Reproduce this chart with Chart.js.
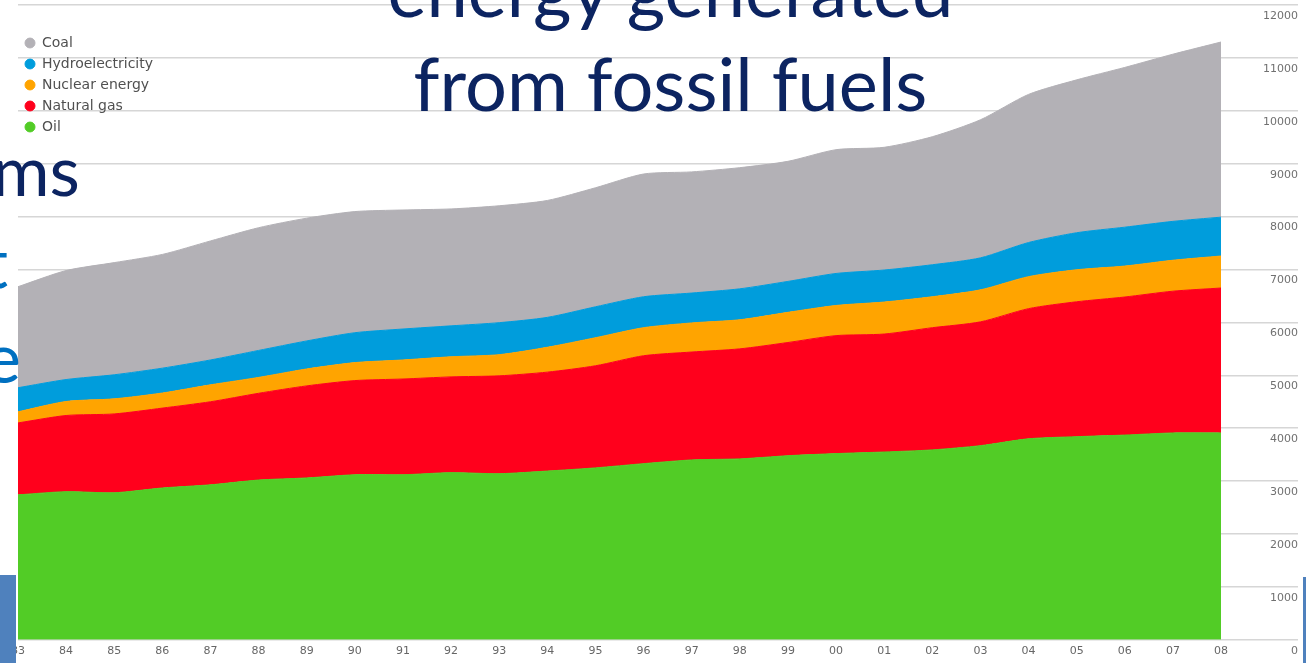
<!DOCTYPE html>
<html>
<head>
<meta charset="utf-8">
<title>Energy generated from fossil fuels</title>
<script src="https://cdn.jsdelivr.net/npm/chart.js@4.4.1/dist/chart.umd.min.js"></script>
<style>
  html, body { margin: 0; padding: 0; background: #fff; overflow: hidden; }
  #slide { position: relative; width: 1306px; height: 663px; overflow: hidden; font-family: Lato, "Open Sans", sans-serif; }
  #chart-wrap { position: absolute; left: 0; top: 0; width: 1306px; height: 663px; filter: blur(0.6px); }
  .txt { position: absolute; white-space: nowrap; line-height: 1; }
  .title { left: 0; width: 1341px; text-align: center; color: #0c2461; font-size: 74px; }
  .body-dark { color: #0c2461; font-size: 70px; }
  .body-blue { color: #0070c0; font-size: 70px; }
  .bar { position: absolute; background: #4f81bd; }
</style>
</head>
<body>
<div id="slide">
  <div id="chart-wrap"><canvas id="energy_chart"></canvas></div>

  <div class="txt title" style="top:-48px">energy generated</div>
  <div class="txt title" style="top:46px">from fossil fuels</div>
  <div class="txt body-dark" style="left:-8px; top:134px">ms</div>
  <div class="txt body-blue" style="left:-17px; top:226px">t</div>
  <div class="txt body-blue" style="left:-16px; top:321px">e</div>

  <div class="bar" style="left:0; top:575px; width:16px; height:88px"></div>
  <div class="bar" style="left:1303px; top:577px; width:3px; height:86px"></div>
</div>

<script>
// Yearly output per source, stacked bottom to top: oil, gas, nuclear, hydro, coal
const years = ['83', '84', '85', '86', '87', '88', '89', '90', '91', '92', '93', '94', '95',
               '96', '97', '98', '99', '00', '01', '02', '03', '04', '05', '06', '07', '08'];

const oil = [2740, 2800, 2780, 2870, 2930, 3020, 3060, 3120, 3120, 3160, 3140, 3190, 3250,
             3330, 3400, 3420, 3480, 3520, 3550, 3590, 3670, 3800, 3840, 3870, 3910, 3910];

const naturalGas = [1360, 1440, 1490, 1510, 1570, 1640, 1740, 1780, 1810, 1810, 1850, 1870, 1930,
                    2040, 2040, 2080, 2140, 2230, 2230, 2310, 2340, 2460, 2550, 2610, 2680, 2740];

const nuclear = [210, 265, 285, 285, 320, 300, 320, 340, 360, 380, 400, 470, 530,
                 530, 550, 550, 570, 570, 605, 585, 605, 605, 605, 585, 585, 605];

const hydro = [455, 415, 455, 470, 470, 510, 530, 565, 585, 585, 605, 565, 585,
               585, 565, 585, 585, 605, 605, 605, 605, 645, 700, 735, 735, 735];

const coal = [1910, 2060, 2120, 2150, 2250, 2320, 2320, 2290, 2250, 2210, 2210, 2210, 2250,
              2320, 2290, 2290, 2270, 2340, 2320, 2420, 2610, 2800, 2890, 3020, 3160, 3310];

const seriesNames = ['Oil', 'Natural gas', 'Nuclear energy', 'Hydroelectricity', 'Coal'];
const seriesColors = ['#52cc26', '#ff001c', '#ffa400', '#009ddc', '#b3b1b6'];
const seriesData = [oil, naturalGas, nuclear, hydro, coal];

const axisFont = { family: 'DejaVu Sans', size: 11 };

const datasets = seriesData.map((values, i) => ({
    label: seriesNames[i],
    data: values,
    backgroundColor: seriesColors[i],
    borderColor: seriesColors[i],
    borderWidth: 1,
    pointRadius: 0,
    tension: 0.25,
    fill: i === 0 ? 'origin' : '-1'
}));

const ctx = document.getElementById('energy_chart').getContext('2d');
new Chart(ctx, {
    type: 'line',
    data: { labels: years, datasets: datasets },
    options: {
        responsive: true,
        maintainAspectRatio: false,
        animation: false,
        layout: { padding: { left: 18, right: 8, top: 5, bottom: 0 } },
        scales: {
            x: {
                offset: false,
                grid: { display: false, drawTicks: false },
                border: { display: false },
                ticks: { color: '#666', font: axisFont, padding: 5, autoSkip: false, maxRotation: 0 }
            },
            y: {
                position: 'right',
                stacked: true,
                min: 0,
                max: 12000,
                border: { display: false },
                grid: { color: '#d6d6d6', tickColor: '#d6d6d6', lineWidth: 1.5, tickLength: 77 },
                ticks: {
                    stepSize: 1000,
                    color: '#707070',
                    font: axisFont,
                    crossAlign: 'far',
                    padding: -17.5, // labels sit over the long tick marks, right-aligned
                    labelOffset: 11,
                    callback: value => String(value)
                }
            }
        },
        plugins: {
            tooltip: { enabled: false },
            legend: {
                position: 'chartArea',
                align: 'start',
                reverse: true,
                title: { display: true, text: '', font: { size: 10 }, padding: { top: 17, bottom: 0 } },
                labels: {
                    usePointStyle: true,
                    pointStyle: 'circle',
                    pointStyleWidth: 10,
                    boxHeight: 7,
                    padding: 7,
                    color: '#505050',
                    font: { family: 'DejaVu Sans', size: 14 }
                }
            }
        }
    }
});
</script>
</body>
</html>
